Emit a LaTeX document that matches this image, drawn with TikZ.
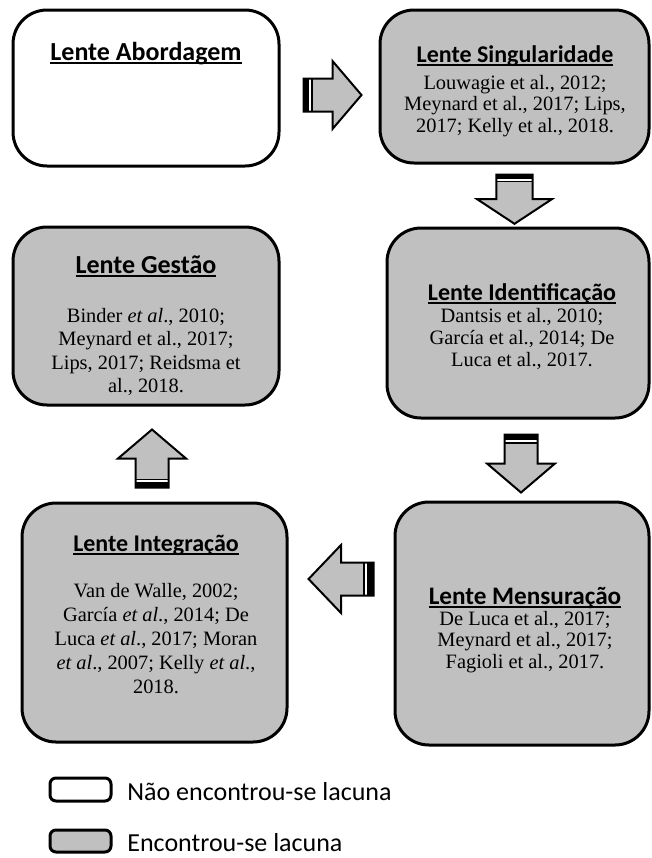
\documentclass[tikz,border=0pt]{standalone}
\usepackage{fontspec}
\setmainfont{Liberation Serif}
\newfontfamily\calibri{Carlito}
\newcommand{\sublinha}[1]{\setbox0\hbox{#1}\rlap{\rule[-2pt]{\wd0}{0.8pt}}\box0}
\usetikzlibrary{calc}
\definecolor{cinza}{HTML}{C0C0C0}
\tikzset{
  caixa/.style={draw, line width=1.5pt, rounded corners=17pt, fill=cinza, inner sep=0pt},
  titulo/.style={font=\calibri\bfseries\fontsize{#1}{15}\selectfont, inner sep=0pt, anchor=base},
  titulo/.default=13,
  texto/.style={font=\fontsize{10.2}{10.8}\selectfont, align=center, inner sep=0pt},
  legenda/.style={font=\calibri\fontsize{13}{15}\selectfont, anchor=west, inner sep=0pt},
  seta/.pic={
    \fill[cinza] (0,-16.5) -- (29,-16.5) -- (29,-34) -- (58,0) -- (29,34) -- (29,16.5) -- (0,16.5) -- cycle;
    \fill (0,-16.5) rectangle (9,16.5);
    \fill[white] (5.5,-16) rectangle (7.5,16);
    \draw[line width=1pt, line join=miter] (0,-16.5) -- (29,-16.5) -- (29,-34) -- (58,0) -- (29,34) -- (29,16.5) -- (0,16.5) -- cycle;
  }
}
\begin{document}
\begin{tikzpicture}[x=0.5pt, y=-0.5pt]
  \useasboundingbox (0,0) rectangle (652,858);
  % caixas
  \node[caixa, fill=white, minimum width=133pt, minimum height=78pt] (abordagem) at (146,88) {};
  \node[caixa, minimum width=134.5pt, minimum height=76.5pt] (singular) at (514.5,86.5) {};
  \node[caixa, minimum width=133pt, minimum height=89pt] (gestao) at (146,316) {};
  \node[caixa, minimum width=131pt, minimum height=95pt] (identif) at (518,323) {};
  \node[caixa, minimum width=132.5pt, minimum height=119.5pt] (integr) at (154.5,622.5) {};
  \node[caixa, minimum width=127pt, minimum height=121.5pt] (mensur) at (522,623.5) {};
  % titulos
  \node[titulo] (tAbordagem) at (146,60) {\sublinha{Lente Abordagem}};
  \node[titulo=12] (tSingular) at (515,62) {\sublinha{Lente Singularidade}};
  \node[titulo] (tGestao) at (146,273) {\sublinha{Lente Gestão}};
  \node[titulo=12] (tIdentif) at (522,300) {\sublinha{Lente Identificação}};
  \node[titulo=12] (tIntegr) at (156,551) {\sublinha{Lente Integração}};
  \node[titulo=12.6] (tMensur) at (525,604) {\sublinha{Lente Mensuração}};
  % referencias
  \node[texto] (rSingular) at (515,106) {Louwagie et al., 2012;\\ Meynard et al., 2017; Lips,\\ 2017; Kelly et al., 2018.};
  \node[texto, font=\fontsize{10.2}{11.6}\selectfont] (rGestao) at (146,352) {Binder \textit{et al}., 2010;\\ Meynard et al., 2017;\\ Lips, 2017; Reidsma et\\ al., 2018.};
  \node[texto] (rIdentif) at (522,339) {Dantsis et al., 2010;\\ García et al., 2014; De\\ Luca et al., 2017.};
  \node[texto, font=\fontsize{10.2}{12}\selectfont] (rIntegr) at (156,639) {Van de Walle, 2002;\\ García \textit{et al}., 2014; De\\ Luca \textit{et al}., 2017; Moran\\ \textit{et al}., 2007; Kelly \textit{et al}.,\\ 2018.};
  \node[texto] (rMensur) at (525,642) {De Luca et al., 2017;\\ Meynard et al., 2017;\\ Fagioli et al., 2017.};
  % setas
  \pic at ($(abordagem.east)+(23,7)$) {seta};
  \pic[rotate=-90, xscale=0.85, yscale=1.1] at ($(singular.south)+(0,10)$) {seta};
  \pic[rotate=-90] at ($(identif.south)+(3,15)$) {seta};
  \pic[rotate=90] at ($(integr.north)+(-2.5,-14)$) {seta};
  \pic[rotate=180, xscale=1.12] at ($(mensur.west)+(-20,-44.5)$) {seta};
  % legenda
  \node[caixa, fill=white, rounded corners=3pt, minimum width=30.5pt, minimum height=11.5pt] (semLacuna) at (80.5,789.5) {};
  \node[caixa, rounded corners=3pt, minimum width=30.5pt, minimum height=11pt] (comLacuna) at (80.5,841) {};
  \node[legenda] (lSem) at (127,792) {Não encontrou-se lacuna};
  \node[legenda] (lCom) at (127,843) {Encontrou-se lacuna};
\end{tikzpicture}
\end{document}
